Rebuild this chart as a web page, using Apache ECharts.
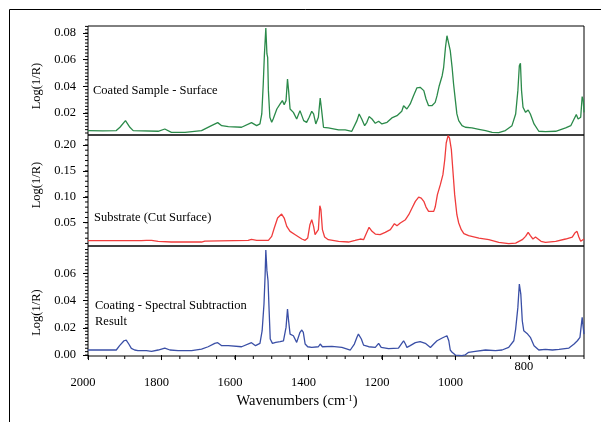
<!DOCTYPE html>
<html><head><meta charset="utf-8">
<script src="https://cdn.jsdelivr.net/npm/echarts@6/dist/echarts.min.js"></script>
<style>html,body{margin:0;padding:0;background:#fff}#c{width:601px;height:422px}</style>
</head><body><div id="c"></div><script>
// ---- data (wavenumber cm-1, Log(1/R)) ----
const wnCoated = [2000,1960,1923,1913,1898,1886,1877,1809,1791,1773,1736,1691,1664,1647,1636,1618,1582,1555,1541,1532,1527,1523,1520,1516,1513,1511,1509,1505,1500,1496,1486,1477,1471,1466,1461,1457,1454,1450,1441,1432,1423,1418,1413,1405,1398,1391,1386,1380,1373,1368,1364,1359,1346,1318,1300,1282,1268,1262,1255,1247,1241,1235,1227,1218,1209,1200,1186,1173,1159,1146,1141,1132,1123,1114,1105,1096,1086,1080,1073,1064,1055,1050,1044,1036,1032,1027,1023,1018,1014,1009,1005,1000,996,991,982,973,955,936,918,900,882,864,846,836,830,826,823,820,816,809,802,796,786,773,755,727,700,686,677,671,666,659,655,652,650];
const absCoated = [0.0068,0.0066,0.0068,0.0093,0.0143,0.0093,0.0068,0.0063,0.0080,0.0055,0.0055,0.0068,0.0105,0.0128,0.0105,0.0098,0.0093,0.0128,0.0105,0.0118,0.0193,0.0418,0.0630,0.0838,0.0643,0.0618,0.0368,0.0168,0.0130,0.0155,0.0230,0.0268,0.0293,0.0263,0.0293,0.0455,0.0368,0.0230,0.0205,0.0155,0.0218,0.0223,0.0143,0.0130,0.0168,0.0213,0.0193,0.0118,0.0168,0.0313,0.0218,0.0093,0.0088,0.0073,0.0073,0.0063,0.0143,0.0193,0.0155,0.0105,0.0130,0.0173,0.0155,0.0123,0.0138,0.0118,0.0130,0.0163,0.0180,0.0213,0.0255,0.0230,0.0268,0.0330,0.0388,0.0393,0.0368,0.0305,0.0255,0.0255,0.0280,0.0330,0.0405,0.0480,0.0543,0.0693,0.0780,0.0768,0.0668,0.0543,0.0418,0.0293,0.0193,0.0143,0.0105,0.0093,0.0088,0.0078,0.0068,0.0055,0.0053,0.0068,0.0105,0.0193,0.0368,0.0555,0.0573,0.0368,0.0243,0.0205,0.0223,0.0193,0.0118,0.0063,0.0060,0.0063,0.0088,0.0105,0.0155,0.0188,0.0155,0.0168,0.0323,0.0293,0.0205];

const wnSubstrate = [2000,1855,1841,1827,1809,1773,1691,1682,1564,1555,1541,1509,1500,1493,1484,1473,1466,1459,1450,1436,1418,1409,1402,1396,1391,1386,1382,1377,1373,1369,1366,1362,1356,1346,1318,1291,1273,1259,1250,1244,1235,1227,1218,1205,1191,1177,1171,1166,1159,1150,1136,1127,1118,1109,1100,1093,1086,1080,1073,1059,1055,1049,1041,1034,1029,1025,1020,1016,1011,1007,1002,996,991,984,977,964,936,909,882,855,836,818,809,802,796,789,782,775,767,755,727,700,682,675,669,664,659,655,650];
const absSubstrate = [0.0153,0.0153,0.0159,0.0159,0.0140,0.0127,0.0127,0.0146,0.0159,0.0178,0.0159,0.0159,0.0236,0.0397,0.0590,0.0667,0.0590,0.0429,0.0333,0.0268,0.0185,0.0159,0.0204,0.0461,0.0558,0.0429,0.0268,0.0236,0.0365,0.0828,0.0751,0.0365,0.0223,0.0172,0.0140,0.0127,0.0159,0.0185,0.0172,0.0268,0.0410,0.0333,0.0281,0.0268,0.0313,0.0365,0.0429,0.0481,0.0442,0.0494,0.0558,0.0654,0.0783,0.0912,0.0995,0.0976,0.0912,0.0802,0.0719,0.0719,0.0802,0.1041,0.1234,0.1427,0.1716,0.2038,0.2180,0.2134,0.1909,0.1523,0.1041,0.0654,0.0494,0.0365,0.0288,0.0249,0.0204,0.0172,0.0120,0.0094,0.0107,0.0172,0.0236,0.0313,0.0249,0.0185,0.0223,0.0185,0.0140,0.0120,0.0140,0.0185,0.0223,0.0300,0.0333,0.0223,0.0140,0.0172,0.0185];

const wnResult = [2000,1923,1914,1902,1896,1889,1882,1873,1864,1841,1827,1809,1791,1777,1755,1718,1691,1673,1655,1647,1636,1618,1582,1555,1544,1532,1526,1521,1518,1516,1513,1510,1507,1504,1498,1489,1477,1468,1464,1461,1457,1454,1450,1441,1432,1423,1418,1414,1409,1402,1391,1373,1368,1362,1336,1309,1286,1275,1268,1264,1256,1250,1236,1218,1209,1202,1182,1155,1146,1141,1136,1132,1123,1109,1096,1082,1068,1059,1050,1036,1023,1018,1014,1009,1000,982,973,964,946,918,891,873,855,841,836,830,826,822,818,814,805,796,786,773,755,736,718,691,677,668,661,656,655,652,650];
const absResult = [0.0037,0.0037,0.0069,0.0105,0.0110,0.0081,0.0049,0.0037,0.0032,0.0032,0.0027,0.0037,0.0051,0.0037,0.0032,0.0032,0.0044,0.0061,0.0086,0.0091,0.0069,0.0069,0.0061,0.0091,0.0069,0.0086,0.0179,0.0375,0.0583,0.0772,0.0620,0.0546,0.0326,0.0118,0.0086,0.0093,0.0098,0.0105,0.0118,0.0203,0.0338,0.0252,0.0154,0.0142,0.0093,0.0167,0.0184,0.0167,0.0081,0.0061,0.0056,0.0061,0.0081,0.0061,0.0064,0.0056,0.0037,0.0081,0.0130,0.0154,0.0118,0.0073,0.0061,0.0056,0.0086,0.0056,0.0047,0.0051,0.0086,0.0105,0.0081,0.0056,0.0069,0.0091,0.0098,0.0086,0.0056,0.0081,0.0105,0.0125,0.0142,0.0105,0.0037,0.0020,0.0000,-0.0005,0.0002,0.0020,0.0027,0.0037,0.0032,0.0037,0.0056,0.0105,0.0191,0.0350,0.0522,0.0448,0.0252,0.0179,0.0159,0.0130,0.0069,0.0037,0.0042,0.0037,0.0042,0.0051,0.0081,0.0105,0.0130,0.0142,0.0277,0.0272,0.0154];

const xTickLabels = [2000,1800,1600,1400,1200,1000,800];
const yTicksCoated = [0.02,0.04,0.06,0.08];
const yTicksSubstrate = [0.05,0.10,0.15,0.20];
const yTicksResult = [0.00,0.02,0.04,0.06];
const panelTitles = ['Coated Sample - Surface','Substrate (Cut Surface)','Coating - Spectral Subtraction\nResult'];

// ---- helpers ----
const FONT = 'Liberation Serif';
function steps(from, to, step) { const a = []; for (let v = from; v <= to + 1e-9; v += step) a.push(+v.toFixed(6)); return a; }
function pairs(xs, ys) { return xs.map((x, i) => [x, ys[i]]); }

const X_MIN = 650, X_MAX = 2000;
const ranges = [[0.0035, 0.0853], [0.005, 0.2193], [-0.0007, 0.0801]];
const majors = [yTicksCoated, yTicksSubstrate, yTicksResult];
const minorY = [steps(0.005, 0.085, 0.0025), steps(0.01, 0.21, 0.01), steps(0, 0.0775, 0.0025)];
const minorX = steps(650, 2000, 50);
const namePads = [[0, 11, 0, 0], [0, 0, 0, 11], [0, 23, 0, 0]];

const grids = [
  {left: 88, right: 17, top: 26, height: 109},
  {left: 88, right: 17, top: 135, height: 111},
  {left: 88, right: 17, top: 246, height: 110}
].map(g => Object.assign(g, {show: true, borderColor: '#000', borderWidth: 1, backgroundColor: 'transparent', containLabel: false}));

const xAxes = [];
for (let i = 0; i < 3; i++) {
  const base = {type: 'value', gridIndex: i, min: X_MIN, max: X_MAX, inverse: true, position: 'bottom',
    splitLine: {show: false}, axisLine: {show: false}};
  if (i < 2) { xAxes.push(Object.assign(base, {axisTick: {show: false}, axisLabel: {show: false}})); continue; }
  xAxes.push(Object.assign(base, {
    axisTick: {show: true, customValues: xTickLabels, length: 5, lineStyle: {color: '#000'}},
    axisLabel: {customValues: xTickLabels, formatter: v => v === 800 ? '800' : '\n' + v,
      fontFamily: FONT, fontSize: 12.5, color: '#000', lineHeight: 16, margin: 3, padding: [0, 10, 0, 0]},
    name: 'Wavenumbers (cm{sup|-1})', nameLocation: 'middle', nameGap: 38,
    nameTextStyle: {fontFamily: FONT, fontSize: 14.5, color: '#000', padding: [0, 78, 0, 0],
      rich: {sup: {fontFamily: FONT, fontSize: 9, color: '#000', verticalAlign: 'top', padding: [0, 0, 6, 0]}}}
  }));
}

const yAxes = [];
for (let i = 0; i < 3; i++) {
  yAxes.push({type: 'value', gridIndex: i, min: ranges[i][0], max: ranges[i][1], position: 'left',
    splitLine: {show: false}, axisLine: {show: false},
    axisTick: {show: true, customValues: majors[i], length: 5, lineStyle: {color: '#000'}},
    axisLabel: {customValues: majors[i], formatter: v => v.toFixed(2), fontFamily: FONT, fontSize: 12.5, color: '#000', margin: 12},
    name: 'Log(1/R)', nameLocation: 'middle', nameGap: 41,
    nameTextStyle: {fontFamily: FONT, fontSize: 12.5, color: '#000', padding: namePads[i]}});
}

const colors = ['#2b8a4a', '#f03c3c', '#3a4fa6'];
const datasets = [pairs(wnCoated, absCoated), pairs(wnSubstrate, absSubstrate), pairs(wnResult, absResult)];
const series = datasets.map((d, i) => ({
  type: 'line', xAxisIndex: i, yAxisIndex: i, data: d, showSymbol: false, symbol: 'none',
  lineStyle: {color: colors[i], width: 1.3}, clip: true, silent: true
}));

// minor tick marks placed through the axes' own scales
function yMinorTick(params, api) {
  const p = api.coord([api.value(0), api.value(1)]);
  return {type: 'line', shape: {x1: p[0] - 3, y1: p[1], x2: p[0], y2: p[1]}, style: {stroke: '#000', lineWidth: 1}};
}
function xMinorTick(params, api) {
  const p = api.coord([api.value(0), api.value(1)]);
  return {type: 'line', shape: {x1: p[0], y1: p[1], x2: p[0], y2: p[1] + 3}, style: {stroke: '#000', lineWidth: 1}};
}
for (let i = 0; i < 3; i++) {
  series.push({type: 'custom', xAxisIndex: i, yAxisIndex: i, silent: true, clip: false, z: 5,
    renderItem: yMinorTick, data: minorY[i].map(v => [X_MAX, v])});
}
series.push({type: 'custom', xAxisIndex: 2, yAxisIndex: 2, silent: true, clip: false, z: 5,
  renderItem: xMinorTick, data: minorX.map(v => [v, ranges[2][0]])});

const chart = echarts.init(document.getElementById('c'), null, {renderer: 'canvas'});
chart.setOption({
  animation: false,
  backgroundColor: '#fff',
  grid: grids,
  xAxis: xAxes,
  yAxis: yAxes,
  series: series,
  graphic: [
    {type: 'rect', silent: true, shape: {x: 9.5, y: 9.5, width: 640, height: 460}, style: {fill: 'none', stroke: '#000', lineWidth: 1}},
    {type: 'text', silent: true, x: 93, y: 91, style: {text: panelTitles[0], fontFamily: FONT, fontSize: 12.5, fill: '#000', verticalAlign: 'middle'}},
    {type: 'text', silent: true, x: 94, y: 218, style: {text: panelTitles[1], fontFamily: FONT, fontSize: 12.5, fill: '#000', verticalAlign: 'middle'}},
    {type: 'text', silent: true, x: 95, y: 298, style: {text: panelTitles[2], fontFamily: FONT, fontSize: 12.5, fill: '#000', verticalAlign: 'top', lineHeight: 16}}
  ]
});
</script></body></html>
